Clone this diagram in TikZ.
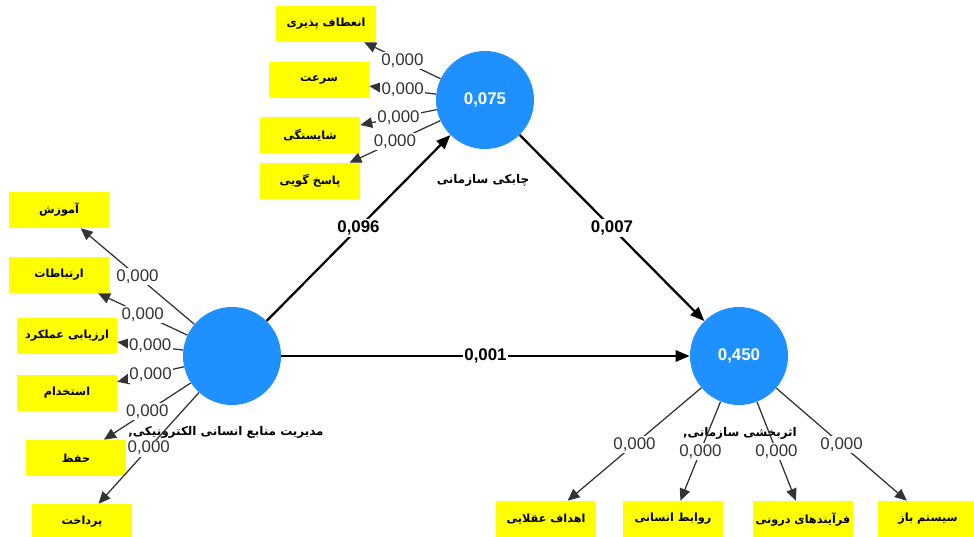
\documentclass[tikz,border=0pt]{standalone}
\usepackage{fontspec}
\setmainfont{Liberation Sans}
\newfontfamily\fafont[Script=Arabic]{DejaVu Sans}
\TeXXeTstate=1
\usetikzlibrary{arrows.meta}
\definecolor{lvblue}{RGB}{30,144,255}
\definecolor{indyellow}{RGB}{255,255,0}

\begin{document}
\begin{tikzpicture}[x=0.025cm,y=-0.025cm,
  latent/.style={circle,fill=lvblue,minimum size=2.45cm,inner sep=0pt,text=white,font=\bfseries\fontsize{12}{14}\selectfont},
  indic/.style={fill=indyellow,minimum width=2.5cm,minimum height=0.9cm,inner sep=0pt,font=\fafont\bfseries\fontsize{8}{10}\selectfont},
  lvname/.style={font=\fafont\bfseries\fontsize{8.5}{11}\selectfont},
  outerarrow/.style={draw=black!80,line width=0.9pt,-{Triangle[length=8.5pt,width=7.5pt]}},
  innerarrow/.style={draw=black,line width=1.6pt,-{Triangle[length=10pt,width=8pt]}},
  val/.style={fill=white,inner sep=1pt,text=black!80,font=\fontsize{12}{14}\selectfont},
  coef/.style={fill=white,inner sep=1pt,font=\bfseries\fontsize{12}{14}\selectfont}]
\useasboundingbox (0,0) rectangle (974,537);

% latent variables
\node[latent] (agility) at (485,100) {0,075};
\node[latent] (ehrm) at (232,356) {};
\node[latent] (effect) at (739,356) {0,450};
\node[lvname] (agilityname) at (483,180) {\beginR چابکی سازمانی\endR};
\node[lvname] (ehrmname) at (226,432) {\beginR مدیریت منابع انسانی الکترونیکی,\endR};
\node[lvname] (effectname) at (740,433) {\beginR اثربخشی سازمانی,\endR};

% indicators of agility
\node[indic] (flex) at (326,24) {\beginR انعطاف پذیری\endR};
\node[indic] (speed) at (319,80) {\beginR سرعت\endR};
\node[indic] (compet) at (310,135) {\beginR شایستگی\endR};
\node[indic] (respond) at (310,181) {\beginR پاسخ گویی\endR};

% indicators of e-HRM
\node[indic] (train) at (59,210) {\beginR آموزش\endR};
\node[indic] (commun) at (59,275) {\beginR ارتباطات\endR};
\node[indic] (apprais) at (67,336) {\beginR ارزیابی عملکرد\endR};
\node[indic] (recruit) at (67,393) {\beginR استخدام\endR};
\node[indic] (retain) at (76,458) {\beginR حفظ\endR};
\node[indic] (pay) at (82,522) {\beginR پرداخت\endR};

% indicators of effectiveness
\node[indic] (goals) at (546,519) {\beginR اهداف عقلایی\endR};
\node[indic] (human) at (673,519) {\beginR روابط انسانی\endR};
\node[indic] (process) at (803,519) {\beginR فرآیندهای درونی\endR};
\node[indic] (opensys) at (928,519) {\beginR سیستم باز\endR};

% outer loadings
\foreach \b in {flex,speed,compet,respond}
	\draw[outerarrow] (agility) -- node[val] {0,000} (\b);
\foreach \b in {train,commun,apprais,recruit,retain,pay}
	\draw[outerarrow] (ehrm) -- node[val] {0,000} (\b);
\foreach \b in {goals,human,process,opensys}
	\draw[outerarrow] (effect) -- node[val] {0,000} (\b);

% path coefficients
\draw[innerarrow] (ehrm) -- node[coef] {0,096} (agility);
\draw[innerarrow] (agility) -- node[coef] {0,007} (effect);
\draw[innerarrow] (ehrm) -- node[coef] {0,001} (effect);
\end{tikzpicture}
\end{document}
